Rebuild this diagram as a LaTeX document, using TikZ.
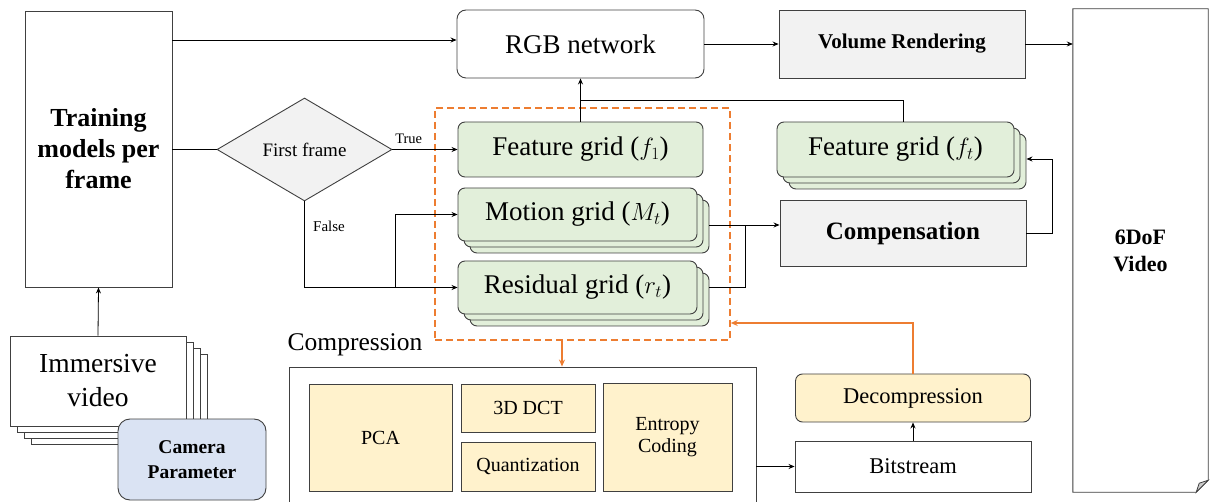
\documentclass[tikz,border=0pt]{standalone}
\usepackage{fontspec}
\setmainfont{Liberation Serif}
\usetikzlibrary{arrows.meta,shapes.geometric,shadows,calc}
\definecolor{gfill}{HTML}{E2EFDA}
\definecolor{yfill}{HTML}{FFF2CC}
\definecolor{grayfill}{HTML}{F2F2F2}
\definecolor{bfill}{HTML}{DAE3F3}
\definecolor{orng}{HTML}{ED7D31}
\definecolor{edge}{HTML}{404040}
\begin{document}
\begin{tikzpicture}[x=1pt,y=-1pt,
  box/.style={draw=edge,line width=0.9pt,inner sep=0pt,align=center,rectangle},
  grn/.style={box,fill=gfill,rounded corners=7pt},
  grnstack/.style={grn,double copy shadow={shadow xshift=6pt,shadow yshift=-6pt}},
  ylw/.style={box,fill=yfill},
  gry/.style={box,fill=grayfill},
  arr/.style={-{Stealth[length=6pt,width=5pt]},line width=0.8pt,black},
  ln/.style={line width=0.8pt,black},
  oarr/.style={-{Stealth[length=7pt,width=6pt]},line width=1.8pt,orng},
  big/.style={font=\fontsize{27}{32}\selectfont},
  sml/.style={font=\fontsize{20}{22}\selectfont},
]
\useasboundingbox (0,0) rectangle (1210,502);

% Training box
\node[box,minimum width=147,minimum height=276,font=\bfseries\fontsize{26}{31}\selectfont] (train) at (98.5,149) {Training\\models per\\frame};

% RGB network
\node[box,rounded corners=9pt,minimum width=247,minimum height=68,big] (rgb) at (580.5,44) {RGB network};

% Volume rendering
\node[gry,minimum width=246,minimum height=68,font=\bfseries\fontsize{21}{25}\selectfont] (vol) at (902,44) {Volume Rendering};

% 6DoF video (folded page)
\node[inner sep=0pt,minimum width=135,minimum height=483] (v6) at (1140.5,250.5) {};
\draw[draw=edge,line width=0.9pt,fill=white] (v6.north west) -- (v6.north east) -- ($(v6.south east)+(0,-12)$) -- ($(v6.south east)+(-12,0)$) -- (v6.south west) -- cycle;
\draw[draw=edge,line width=0.8pt,fill=gray!40] ($(v6.south east)+(0,-12)$) -- ($(v6.south east)+(-9,-9)$) -- ($(v6.south east)+(-12,0)$) -- cycle;
\node[inner sep=0pt,align=center,font=\bfseries\fontsize{22}{27}\selectfont] (v6lab) at (v6.center) {6DoF\\Video};

% Decision diamond
\node[diamond,draw=edge,line width=0.9pt,fill=grayfill,minimum width=175,minimum height=103,inner sep=0pt,font=\fontsize{19}{22}\selectfont] (dec) at (304.5,149.5) {First frame};

% Orange dashed group
\node[draw=orng,dash pattern=on 7pt off 4pt,line width=1.5pt,minimum width=295,minimum height=232,inner sep=0pt] (grp) at (582.5,224) {};

% Green grids
\node[grn,minimum width=245,minimum height=55,big] (f1) at (580.5,149.5) {Feature grid ($f_1$)};
\node[grnstack,minimum width=239,minimum height=53,big] (mot) at (577.5,214.5) {Motion grid ($M_t$)};
\node[grnstack,minimum width=239,minimum height=53,big] (res) at (577.5,287.5) {Residual grid ($r_t$)};
\node[grnstack,minimum width=237,minimum height=55,big] (ft) at (895.5,149.5) {Feature grid ($f_t$)};

% Compensation
\node[gry,minimum width=246,minimum height=66,font=\bfseries\fontsize{25}{30}\selectfont] (comp) at (903,233) {Compensation};

% Compression
\node[font=\fontsize{25.5}{30}\selectfont,inner sep=0pt] (complab) at (355,345) {Compression};
\node[box,minimum width=467,minimum height=148] (cbox) at (522.5,441) {};
\node[ylw,minimum width=143,minimum height=107,sml] (pca) at (380.5,437.5) {PCA};
\node[ylw,minimum width=134,minimum height=48,sml] (dct) at (528,408) {3D DCT};
\node[ylw,minimum width=134,minimum height=49,sml] (quant) at (528,466.5) {Quantization};
\node[ylw,minimum width=129,minimum height=108,sml] (ent) at (667.5,437) {Entropy\\Coding};

% Bitstream / Decompression
\node[box,minimum width=236,minimum height=51,font=\fontsize{22.5}{26}\selectfont] (bit) at (913,466.5) {Bitstream};
\node[ylw,rounded corners=7pt,minimum width=235,minimum height=48,font=\fontsize{22.5}{26}\selectfont] (dcmp) at (913,398) {Decompression};

% Immersive video stack
\foreach \k in {3,2,1} {
  \draw[draw=edge,line width=0.9pt,fill=white] (10+7*\k,336+6*\k) rectangle (186+7*\k,426+6*\k);
}
\node[box,fill=white,minimum width=176,minimum height=90,font=\fontsize{27.5}{34}\selectfont] (imm) at (98,381) {Immersive\\video};
\node[box,fill=bfill,rounded corners=12pt,minimum width=148,minimum height=81,font=\bfseries\fontsize{19.5}{25}\selectfont] (cam) at (192,459.5) {Camera\\Parameter};

% Connectors
\draw[arr] (train.east |- 0,40) -- (rgb.west |- 0,40);
\draw[arr] (rgb.east) -- (vol.west);
\draw[arr] (vol.east) -- (v6.west |- vol.east);
\draw[ln] (train.east |- dec.west) -- (dec.west);
\draw[arr] (dec.east) -- node[above,pos=0.25,font=\fontsize{14.5}{16}\selectfont,yshift=2pt]{True} (f1.west);
\draw[arr] (dec.south) -- (dec.south |- res.west) -- (res.west);
\coordinate (br) at (395,0);
\draw[arr] (br |- res.west) -- (br |- mot.west) -- (mot.west);
\node[font=\fontsize{15}{17}\selectfont] (flab) at (329,226) {False};
\draw[arr] (f1.north) -- (rgb.south);
\draw[ln] (comp.north |- ft.north) -- (comp.north |- 0,100) -- (f1.north |- 0,100);
\coordinate (mj) at (745,225);
\draw[arr] ([xshift=12pt]mot.east |- mj) -- (comp.west |- mj);
\draw[ln] ([xshift=12pt]res.east) -- (mj |- res.east) -- (mj);
\coordinate (cr) at (1052,0);
\draw[arr] (comp.east) -- (cr |- comp.east) -- (cr |- 0,159) -- ([xshift=12pt]ft.east |- 0,159);
\draw[arr] (imm.north) -- (train.south);
\draw[oarr] (dcmp.north) -- (dcmp.north |- 0,323) -- (grp.east |- 0,323);
\draw[oarr] (562,0 |- grp.south) -- (562,0 |- cbox.north);
\draw[arr] (cbox.east |- bit.west) -- (bit.west);
\draw[arr] (bit.north) -- (dcmp.south);
\end{tikzpicture}
\end{document}
